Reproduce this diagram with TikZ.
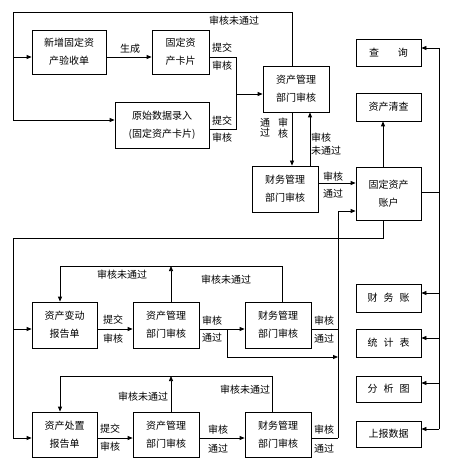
\documentclass[tikz,border=0pt]{standalone}
\usepackage{fontspec}
\newfontfamily\cjk{Noto Sans CJK SC}
\usetikzlibrary{arrows.meta}
\begin{document}
\begin{tikzpicture}[x=1pt,y=-1pt,
  box/.style={draw, line width=0.75pt, font=\cjk\fontsize{10}{18}\selectfont, align=center, inner sep=0pt},
  lbl/.style={font=\cjk\fontsize{10}{12}\selectfont, inner sep=0pt, align=center},
  vlbl/.style={font=\cjk\fontsize{10}{10.5}\selectfont, inner sep=0pt, align=center},
  ln/.style={line width=0.75pt},
  arr/.style={ln, -{Triangle[length=5pt,width=4pt]}}]
\useasboundingbox (0,0) rectangle (453,470);

% boxes
\node[box, minimum width=74pt, minimum height=44pt] (xz) at (69,52) {新增固定资\\产验收单};
\node[box, minimum width=57pt, minimum height=44pt] (kp) at (180.5,52) {固定资\\产卡片};
\node[box, minimum width=94pt, minimum height=46pt] (ys) at (162,125) {原始数据录入\\(固定资产卡片)};
\node[box, minimum width=66pt, minimum height=46pt] (zg1) at (296,89) {资产管理\\部门审核};
\node[box, minimum width=66pt, minimum height=46pt] (cw1) at (285,189) {财务管理\\部门审核};
\node[box, minimum width=65pt, minimum height=53pt] (zh) at (388.5,193.5) {固定资产\\账户};
\node[box, minimum width=65pt, minimum height=27pt] (cx) at (388.5,52.5) {查\hspace{1.9em}询};
\node[box, minimum width=65pt, minimum height=28pt] (qc) at (388.5,107) {资产清查};
\node[box, minimum width=65pt, minimum height=28pt] (cwz) at (388.5,298) {财\hspace{0.6em}务\hspace{0.6em}账};
\node[box, minimum width=65pt, minimum height=28pt] (tj) at (388.5,343) {统\hspace{0.6em}计\hspace{0.6em}表};
\node[box, minimum width=65pt, minimum height=26pt] (fx) at (388.5,389) {分\hspace{0.6em}析\hspace{0.6em}图};
\node[box, minimum width=65pt, minimum height=26pt] (sb) at (388.5,434) {上报数据};

\node[box, minimum width=65pt, minimum height=46pt] (bd) at (64.5,325) {资产变动\\报告单};
\node[box, minimum width=66pt, minimum height=46pt] (zg2) at (166,325) {资产管理\\部门审核};
\node[box, minimum width=66pt, minimum height=46pt] (cw2) at (278,325) {财务管理\\部门审核};

\node[box, minimum width=65pt, minimum height=45pt] (cz) at (64.5,434.5) {资产处置\\报告单};
\node[box, minimum width=66pt, minimum height=45pt] (zg3) at (166,434.5) {资产管理\\部门审核};
\node[box, minimum width=66pt, minimum height=45pt] (cw3) at (278,434.5) {财务管理\\部门审核};

% coordinates
\coordinate (tl) at (13,12);
\coordinate (ta) at (13,57);
\coordinate (tb) at (13,120);
\coordinate (up1) at (292,12);
\coordinate (m1) at (236,57);
\coordinate (m2) at (236,129);
\coordinate (m3) at (236,94);
\coordinate (xa) at (292,0);
\coordinate (xb) at (310,0);
\coordinate (y183) at (0,183);
\coordinate (xc) at (383,0);
\coordinate (bt) at (439,48);
\coordinate (bb) at (439,429);
\coordinate (y192) at (0,192);
\coordinate (r1) at (439,293);
\coordinate (r2) at (439,338);
\coordinate (r3) at (439,383);
\coordinate (lt) at (13,238);
\coordinate (lm) at (13,329);
\coordinate (lb) at (13,438);
\coordinate (cb) at (338,438);
\coordinate (ct) at (338,211);
\coordinate (c2) at (338,329);
\coordinate (c3) at (338,357);
\coordinate (br) at (227,329);
\coordinate (f1) at (60,266);
\coordinate (f2) at (282,266);
\coordinate (f3) at (171,266);
\coordinate (g1) at (60,376);
\coordinate (g2) at (272,376);
\coordinate (g3) at (171,376);

% top section
\draw[ln] (zg1.north -| up1) -- (up1) -- (tl) -- (tb);
\draw[arr] (tb) -- (ys.west |- tb);
\draw[arr] (ta) -- (xz.west |- ta);
\draw[arr] (xz.east |- ta) -- (kp.west |- ta);
\draw[ln] (kp.east |- ta) -- (m1) -- (m2) -- (ys.east |- m2);
\draw[arr] (m3) -- (zg1.west |- m3);
\draw[arr] (zg1.south -| xa) -- (cw1.north -| xa);
\draw[arr] (cw1.north -| xb) -- (zg1.south -| xb);
\draw[arr] (cw1.east |- y183) -- (zh.west |- y183);
\draw[arr] (zh.north -| xc) -- (qc.south -| xc);

\node[lbl] (L1) at (234,21) {审核未通过};
\node[lbl] (L2) at (130,49) {生成};
\node[lbl] (L3) at (222,48) {提交};
\node[lbl] (L4) at (222,66) {审核};
\node[lbl] (L5) at (222,121) {提交};
\node[lbl] (L6) at (222,138) {审核};
\node[vlbl] (L7) at (265,128) {通\\过};
\node[vlbl] (L8) at (283,128) {审\\核};
\node[lbl, align=left, anchor=west, font=\cjk\fontsize{10}{13}\selectfont] (L9) at (311,144) {审核\\未通过};
\node[lbl] (L10) at (333,177) {审核};
\node[lbl] (L11) at (333,194) {通过};

% right bus
\draw[ln] (zh.east |- y192) -- (bt |- y192);
\draw[ln] (bt) -- (bb);
\draw[arr] (bt) -- (cx.east |- bt);
\draw[arr] (r1) -- (cwz.east |- r1);
\draw[arr] (r2) -- (tj.east |- r2);
\draw[arr] (r3) -- (fx.east |- r3);
\draw[arr] (bb) -- (sb.east |- bb);

% left bus
\draw[ln] (zh.south -| xc) |- (lt) -- (lb);
\draw[arr] (lm) -- (bd.west |- lm);
\draw[arr] (lb) -- (cz.west |- lb);

% collect bus
\draw[arr] (cb) -- (ct) -- (zh.west |- ct);
\draw[ln] (cw2.east |- c2) -- (c2);
\draw[arr] (br) |- (c3);
\draw[ln] (cw3.east |- cb) -- (cb);

% middle row
\draw[arr] (bd.east |- lm) -- (zg2.west |- lm);
\draw[arr] (zg2.east |- lm) -- (cw2.west |- lm);
\draw[arr] (cw2.north -| f2) -- (f2) -- (f1) -- (bd.north -| f1);
\draw[arr] (zg2.north -| f3) -- (f3);
\node[lbl] (M1) at (113,320) {提交};
\node[lbl] (M2) at (113,339) {审核};
\node[lbl] (M3) at (212,321) {审核};
\node[lbl] (M4) at (212,338) {通过};
\node[lbl] (M5) at (324,321) {审核};
\node[lbl] (M6) at (324,339) {通过};
\node[lbl] (M7) at (122,275) {审核未通过};
\node[lbl] (M8) at (226,280) {审核未通过};

% bottom row
\draw[arr] (cz.east |- lb) -- (zg3.west |- lb);
\draw[arr] (zg3.east |- lb) -- (cw3.west |- lb);
\draw[arr] (cw3.north -| g2) -- (g2) -- (g1) -- (cz.north -| g1);
\draw[arr] (zg3.north -| g3) -- (g3);
\node[lbl] (B1) at (110,429) {提交};
\node[lbl] (B2) at (110,447) {审核};
\node[lbl] (B3) at (218,430) {审核};
\node[lbl] (B4) at (218,449) {通过};
\node[lbl] (B5) at (324,430) {审核};
\node[lbl] (B6) at (324,449) {通过};
\node[lbl] (B7) at (143,397) {审核未通过};
\node[lbl] (B8) at (245,390) {审核未通过};
\end{tikzpicture}
\end{document}
